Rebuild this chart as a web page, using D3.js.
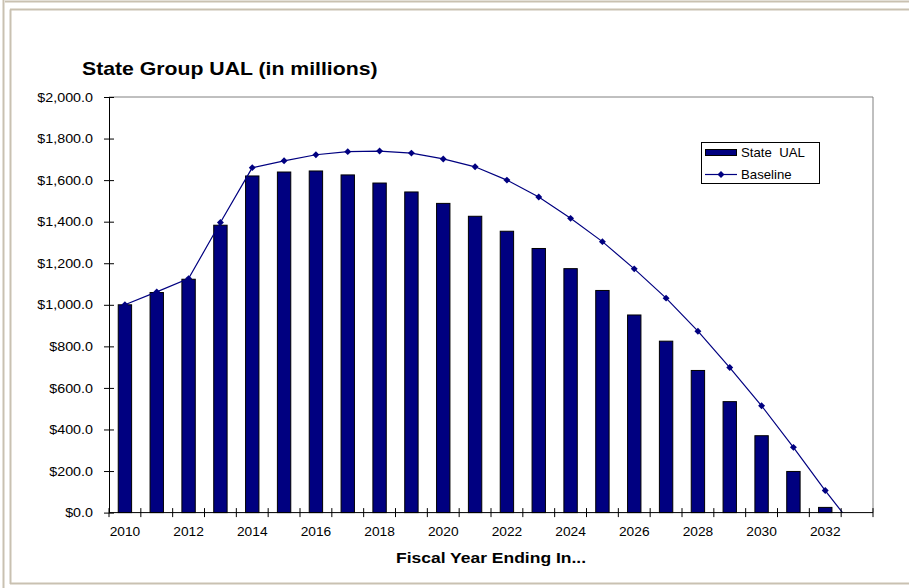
<!DOCTYPE html>
<html>
<head>
<meta charset="utf-8">
<script src="https://cdn.jsdelivr.net/npm/d3@7/dist/d3.min.js"></script>
<style>
  html, body { margin: 0; padding: 0; background: #fff; }
  svg { display: block; font-family: "Liberation Sans", Arial, Helvetica, sans-serif; }
</style>
</head>
<body>
<svg id="chart" width="909" height="588"></svg>
<script>
// Fiscal years on the category axis
const years = ["2010","2011","2012","2013","2014","2015","2016","2017","2018","2019","2020","2021",
               "2022","2023","2024","2025","2026","2027","2028","2029","2030","2031","2032","2033"];

// State UAL, $ millions (bars)
const stateUAL = [1000, 1059, 1123, 1383, 1620, 1639, 1644, 1625, 1586, 1543, 1488, 1426,
                  1354, 1271, 1174, 1069, 951, 825, 684, 534, 370, 198, 25, null];

// Baseline projection, $ millions (line)
const baseline = [1000, 1062, 1126, 1396, 1660, 1693, 1722, 1737, 1740, 1730, 1702, 1664,
                  1600, 1519, 1416, 1304, 1173, 1032, 873, 698, 514, 314, 106, -90];

// Axis tick labels
const yTicks = [0, 200, 400, 600, 800, 1000, 1200, 1400, 1600, 1800, 2000];
const xLabels = ["2010","2012","2014","2016","2018","2020","2022","2024","2026","2028","2030","2032"];

const W = 909, H = 588;
const plot = { left: 109, right: 873, top: 97, bottom: 512.6 };
const navy = "#000080";
const frame = "#c9c1b1";
const stretch = 1.1;   // slightly wide lettering used throughout

const svg = d3.select("#chart");

// ---- page frame -------------------------------------------------------
const fr = svg.append("g").attr("fill", "none").attr("stroke", frame).attr("stroke-width", 2);
fr.append("line").attr("x1", 3.5).attr("x2", 3.5).attr("y1", 0).attr("y2", H);
fr.append("line").attr("x1", 5).attr("x2", W).attr("y1", 1.5).attr("y2", 1.5);
fr.append("line").attr("x1", 10.5).attr("x2", 10.5).attr("y1", 9.5).attr("y2", 584);
fr.append("line").attr("x1", 10).attr("x2", W).attr("y1", 9.5).attr("y2", 9.5);
fr.append("line").attr("x1", 10).attr("x2", W).attr("y1", 583.5).attr("y2", 583.5);

// ---- scales ----------------------------------------------------------
const x = d3.scaleBand().domain(years).range([plot.left, plot.right]).padding(0);
const y = d3.scaleLinear().domain([0, 2000]).range([plot.bottom, plot.top]);
const step = x.step();
const barW = step * 0.42;

// ---- plot-area border (top and right) --------------------------------
svg.append("path")
  .attr("d", `M${plot.left},${y(2000)}H${plot.right}V${plot.bottom}`)
  .attr("fill", "none").attr("stroke", "#808080").attr("stroke-width", 1);

// ---- bars ------------------------------------------------------------
const barData = years.map((yr, i) => ({ yr, v: stateUAL[i] })).filter(d => d.v != null);
svg.append("g").selectAll("rect").data(barData).join("rect")
  .attr("x", d => x(d.yr) + (step - barW) / 2)
  .attr("y", d => y(d.v))
  .attr("width", barW)
  .attr("height", d => y(0) - y(d.v))
  .attr("fill", navy)
  .attr("stroke", "#000")
  .attr("stroke-width", 1);

// ---- baseline line (clipped to the plot area) --------------------------
svg.append("clipPath").attr("id", "plotClip")
  .append("rect")
  .attr("x", plot.left).attr("y", plot.top - 6)
  .attr("width", plot.right - plot.left).attr("height", plot.bottom - plot.top + 6);

const lineData = years.map((yr, i) => ({ yr, v: baseline[i] }));
const cx = d => x(d.yr) + step / 2;

const lg = svg.append("g").attr("clip-path", "url(#plotClip)");
lg.append("path")
  .datum(lineData)
  .attr("d", d3.line().x(cx).y(d => y(d.v)))
  .attr("fill", "none").attr("stroke", navy).attr("stroke-width", 1.2);

const diamond = d3.symbol().type(d3.symbolSquare).size(24);
lg.selectAll("path.mk").data(lineData.filter(d => d.v >= 0)).join("path")
  .attr("class", "mk")
  .attr("d", diamond)
  .attr("transform", d => `translate(${cx(d)},${y(d.v)}) rotate(45)`)
  .attr("fill", navy);

// ---- y axis ----------------------------------------------------------
const yAxis = svg.append("g")
  .attr("transform", `translate(${plot.left},0)`)
  .call(d3.axisLeft(y).tickValues(yTicks).tickSizeInner(5).tickSizeOuter(0)
        .tickFormat(v => "$" + d3.format(",.1f")(v)));
yAxis.select(".domain").attr("stroke", "#000");
yAxis.selectAll(".tick line").attr("x1", 5).attr("stroke", "#000");
yAxis.selectAll(".tick text")
  .attr("x", 0)
  .attr("transform", `translate(-16,0) scale(${stretch},1)`)
  .attr("font-size", 13)
  .attr("font-family", "Liberation Sans, Arial, sans-serif")
  .attr("fill", "#000");

// ---- x axis ----------------------------------------------------------
const xAxis = svg.append("g")
  .attr("transform", `translate(0,${plot.bottom})`)
  .call(d3.axisBottom(x).tickValues(xLabels).tickSize(0).tickPadding(0));
xAxis.select(".domain").remove();
xAxis.selectAll(".tick text")
  .attr("y", 0).attr("dy", 0)
  .attr("transform", `translate(0,23.4) scale(${stretch},1)`)
  .attr("font-size", 12.5)
  .attr("font-family", "Liberation Sans, Arial, sans-serif")
  .attr("fill", "#000");

xAxis.append("line")
  .attr("x1", plot.left).attr("x2", plot.right).attr("y1", 0).attr("y2", 0)
  .attr("stroke", "#000");
const bounds = years.map(yr => x(yr)).concat([x.range()[1]]);
xAxis.selectAll("line.bt").data(bounds).join("line")
  .attr("class", "bt")
  .attr("x1", d => d).attr("x2", d => d)
  .attr("y1", -4.5).attr("y2", 4.5)
  .attr("stroke", "#000");

// ---- titles ----------------------------------------------------------
svg.append("g").attr("transform", "translate(82,75)")
  .append("text")
  .attr("transform", "scale(1.18,1)")
  .attr("font-size", 18).attr("font-weight", "bold").attr("fill", "#000")
  .text("State Group UAL (in millions)");

svg.append("g").attr("transform", `translate(${(plot.left + plot.right) / 2},563.3)`)
  .append("text")
  .attr("transform", "scale(1.25,1)")
  .attr("text-anchor", "middle")
  .attr("font-size", 14).attr("font-weight", "bold").attr("fill", "#000")
  .text("Fiscal Year Ending In...");

// ---- legend ----------------------------------------------------------
const leg = svg.append("g").attr("transform", "translate(701,142)");
leg.append("rect").attr("x", 0.5).attr("y", 0.5).attr("width", 118).attr("height", 41)
  .attr("fill", "#fff").attr("stroke", "#000").attr("stroke-width", 1);

leg.append("rect").attr("x", 4.5).attr("y", 7.5).attr("width", 31).attr("height", 6)
  .attr("fill", navy).attr("stroke", "#000").attr("stroke-width", 1);
leg.append("g").attr("transform", "translate(40,15)")
  .append("text").attr("transform", `scale(${stretch},1)`)
  .attr("font-size", 12).attr("fill", "#000").attr("xml:space", "preserve")
  .text("State  UAL");

leg.append("line").attr("x1", 4).attr("x2", 36).attr("y1", 32.5).attr("y2", 32.5)
  .attr("stroke", navy).attr("stroke-width", 1.2);
leg.append("path").attr("d", diamond)
  .attr("transform", "translate(20,32.5) rotate(45)").attr("fill", navy);
leg.append("g").attr("transform", "translate(40,37)")
  .append("text").attr("transform", `scale(${stretch},1)`)
  .attr("font-size", 12).attr("fill", "#000")
  .text("Baseline");
</script>
</body>
</html>
